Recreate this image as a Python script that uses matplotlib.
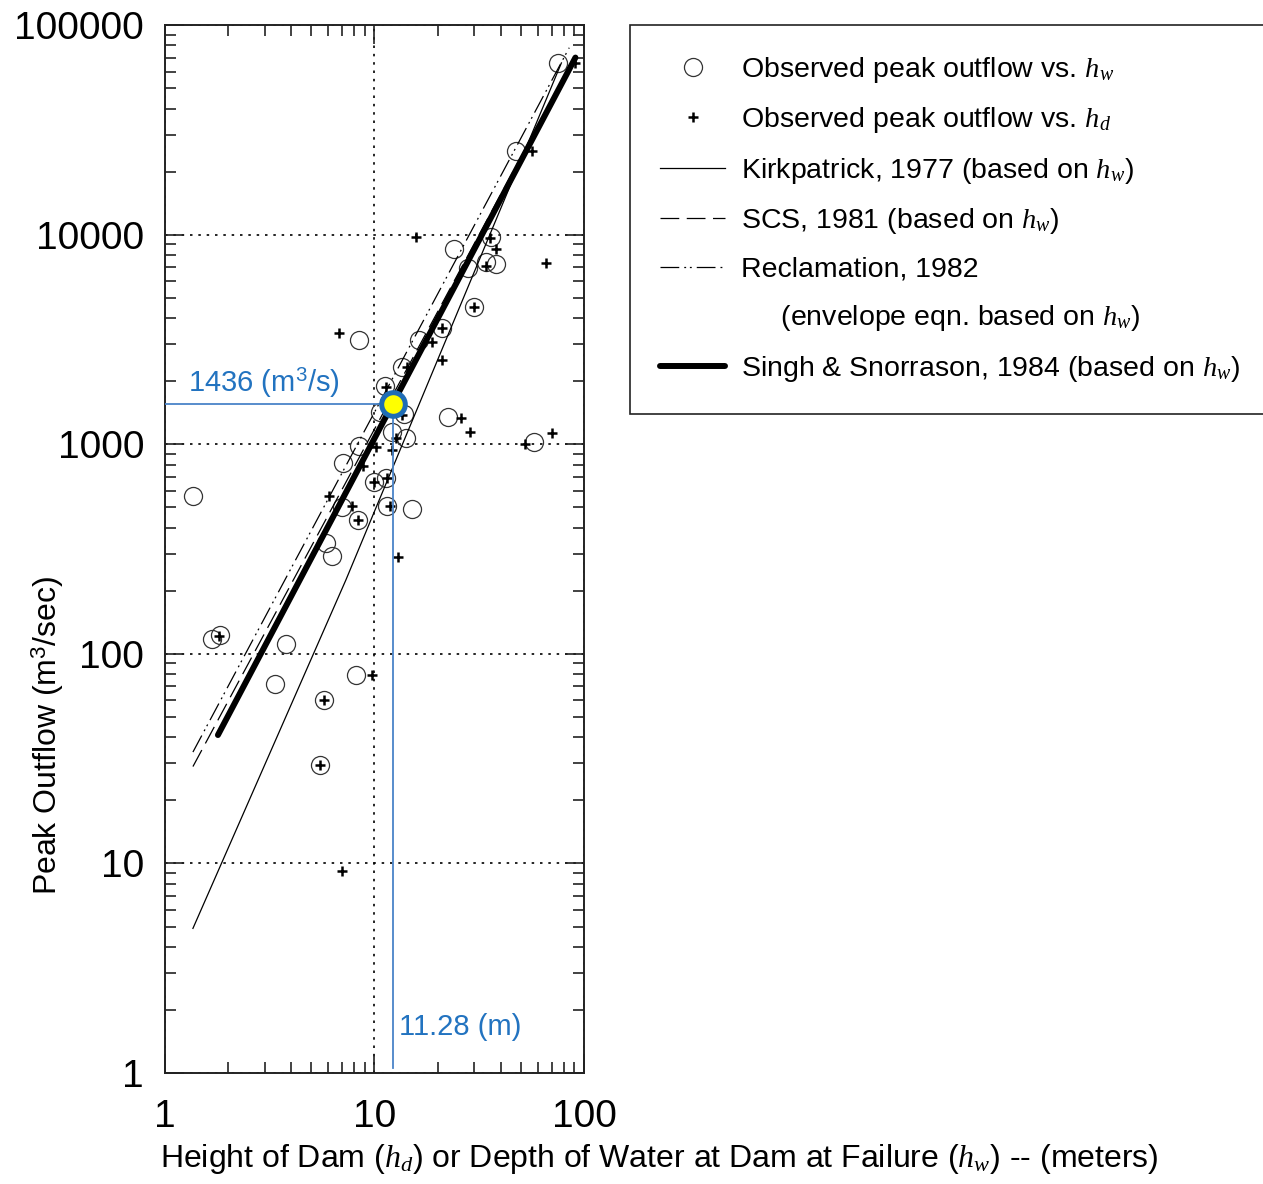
import matplotlib
matplotlib.use("Agg")
import matplotlib.pyplot as plt
from matplotlib.lines import Line2D
from matplotlib.ticker import LogLocator, NullFormatter

# ==========================================
# DATA
# ==========================================

# observed peak outflow vs depth of water hw (open circles)
hw_depth = [1.36, 1.67, 1.83, 3.34, 3.77, 5.47, 5.72, 5.9, 6.24, 6.97,
            7.05, 8.2, 8.3, 8.4, 8.4, 10.0, 10.6, 11.2, 11.3, 11.5,
            12.1, 13.6, 13.9, 14.1, 15.1, 16.4, 21.1, 22.5, 24.0, 27.8,
            29.9, 34.1, 35.8, 38.1, 47.5, 57.8, 75.2]
hw_flow = [566, 118, 123, 72, 111, 29.5, 60, 338, 293, 500,
           813, 79, 435, 980, 3140, 660, 1430, 1900, 690, 510,
           1150, 2330, 1400, 1070, 490, 3140, 3600, 1350, 8530, 6950,
           4520, 7400, 9700, 7240, 25000, 1024, 65900]

# observed peak outflow vs height of dam hd (small pluses)
hd_height = [1.81, 5.47, 5.72, 6.05, 6.8, 6.97, 7.85, 8.3, 8.8, 9.68,
             10.0, 10.2, 11.3, 11.5, 11.8, 12.1, 12.7, 12.9, 13.6, 14.3,
             15.7, 18.9, 21.1, 21.1, 25.9, 28.6, 29.9, 34.1, 35.7, 38.1,
             52.4, 56.5, 65.9, 70.4, 90.6]
hd_flow = [122, 29.5, 60, 566, 3400, 9.2, 510, 435, 790, 79,
           660, 970, 1870, 690, 510, 940, 1070, 290, 1380, 2330,
           9750, 3060, 3600, 2520, 1330, 1140, 4520, 7100, 9640, 8530,
           1000, 25000, 7320, 1130, 65900]

# regression / envelope lines
kirk_h = [1.36, 7.3, 78]
kirk_q = [4.9, 225, 66000]
scs_h = [1.36, 90]
scs_q = [29, 70000]
recl_h = [1.36, 85]
recl_q = [34, 78000]
singh_h = [1.79, 91]
singh_q = [41, 70000]

# highlighted point
mark_h = 12.2
mark_q = 1560
mark_q_label = "1436 (m$^3$/s)"
mark_h_label = "11.28 (m)"

x_ticks = [1, 10, 100]
x_tick_labels = ["1", "10", "100"]
y_ticks = [1, 10, 100, 1000, 10000, 100000]
y_tick_labels = ["1", "10", "100", "1000", "10000", "100000"]

# ==========================================
# STYLE
# ==========================================

plt.rcParams["font.family"] = "Liberation Sans"
plt.rcParams["mathtext.fontset"] = "custom"
plt.rcParams["mathtext.rm"] = "Liberation Sans"
plt.rcParams["mathtext.it"] = "Liberation Serif:italic"
plt.rcParams["mathtext.bf"] = "Liberation Sans:bold"

BLUE_TEXT = "#2273C0"
BLUE_LINE = "#4A84C8"
BLUE_RING = "#1F6DB5"

fig = plt.figure(figsize=(12.63, 11.84), dpi=100)
ax = fig.add_axes([0.1306, 0.0937, 0.3318, 0.8851])

# ==========================================
# DATA POINTS AND LINES
# ==========================================

circles, = ax.plot(hw_depth, hw_flow, linestyle="none", marker="o", ms=13,
                   mfc="none", mec="#333333", mew=0.9)
pluses, = ax.plot(hd_height, hd_flow, linestyle="none", marker="+", ms=7,
                  color="black", mew=1.8)

kirk, = ax.plot(kirk_h, kirk_q, color="black", lw=0.9)
scs, = ax.plot(scs_h, scs_q, color="black", lw=0.9,
               linestyle=(0, (15, 6)))
recl, = ax.plot(recl_h, recl_q, color="black", lw=0.9,
                linestyle=(0, (15, 4, 1.5, 3, 1.5, 4)))
singh, = ax.plot(singh_h, singh_q, color="black", lw=4.3,
                 solid_capstyle="round")

# ==========================================
# HIGHLIGHTED POINT
# ==========================================

ax.plot([1, mark_h], [mark_q, mark_q], color=BLUE_LINE, lw=1.3, zorder=5)
ax.plot([mark_h, mark_h], [mark_q, 1.06], color=BLUE_LINE, lw=1.3, zorder=5)
ax.plot(mark_h, mark_q, marker="o", ms=17, mfc="#FFFF00", mec=BLUE_RING,
        mew=3.6, zorder=6)
ax.text(1.29, 1960, mark_q_label, color=BLUE_TEXT, fontsize=21,
        ha="left", va="center")
ax.text(13.15, 1.66, mark_h_label, color=BLUE_TEXT, fontsize=21,
        ha="left", va="center")

# ==========================================
# AXES
# ==========================================

ax.set_xscale("log")
ax.set_yscale("log")
ax.set_xlim(1, 100)
ax.set_ylim(1, 100000)

ax.set_xticks(x_ticks)
ax.set_xticklabels(x_tick_labels)
ax.set_yticks(y_ticks)
ax.set_yticklabels(y_tick_labels)
ax.xaxis.set_minor_locator(LogLocator(base=10, subs=range(2, 10)))
ax.yaxis.set_minor_locator(LogLocator(base=10, subs=range(2, 10)))
ax.xaxis.set_minor_formatter(NullFormatter())
ax.yaxis.set_minor_formatter(NullFormatter())

ax.tick_params(which="both", direction="in", top=True, right=True,
               color="#222222", width=1.2)
ax.tick_params(which="major", length=14, labelsize=28)
ax.tick_params(which="minor", length=8)
ax.tick_params(axis="x", which="major", pad=19)
ax.tick_params(axis="y", which="major", pad=15)

for spine in ax.spines.values():
    spine.set_linewidth(1.4)
    spine.set_color("#222222")

ax.grid(which="major", color="black", linestyle=(0, (1.5, 3.5)), lw=1.2)

ax.set_xlabel("Height of Dam ($h_d$) or Depth of Water at Dam at Failure "
              "($h_w$) -- (meters)", fontsize=23, ha="left")
ax.xaxis.set_label_coords(-0.012, -0.066)
ax.set_ylabel("Peak Outflow (m$^{3}$/sec)", fontsize=23)
ax.yaxis.set_label_coords(-0.235, 0.3225)

# ==========================================
# LEGEND
# ==========================================

blank = Line2D([], [], color="none")
handles = [circles, pluses, kirk, scs, recl, blank, singh]
labels = [
    "Observed peak outflow vs. $h_w$",
    "Observed peak outflow vs. $h_d$",
    "Kirkpatrick, 1977 (based on $h_w$)",
    "SCS, 1981 (based on $h_w$)",
    "Reclamation, 1982",
    "     (envelope eqn. based on $h_w$)",
    "Singh & Snorrason, 1984 (based on $h_w$)",
]
leg = ax.legend(handles, labels, loc="upper left",
                bbox_to_anchor=(0.4988, 0.9789),
                bbox_transform=fig.transFigure, borderaxespad=0,
                fontsize=20.5, frameon=True, fancybox=False, framealpha=1,
                edgecolor="#222222", numpoints=1, handlelength=2.3,
                handletextpad=0.55, borderpad=1.05, labelspacing=0.72)
leg.get_frame().set_linewidth(1.2)

plt.savefig("out.png", dpi=100)
plt.close()
